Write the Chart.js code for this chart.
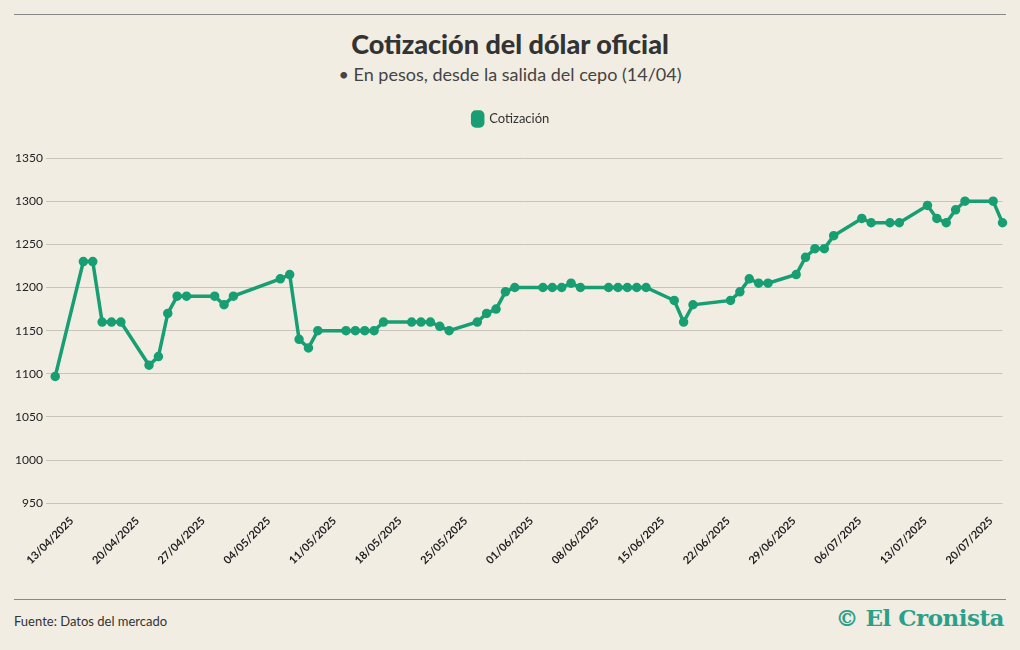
<!DOCTYPE html>
<html>
<head>
<meta charset="utf-8">
<script src="https://cdn.jsdelivr.net/npm/chart.js@4"></script>
<style>
body{margin:0;background:#f2ede3;font-family:Lato,"Open Sans",sans-serif;color:#333}
#wrap{position:relative;width:1020px;height:650px;overflow:hidden}
.rule{position:absolute;left:14px;right:14px;height:1px;background:#888}
#title{position:absolute;top:27px;width:100%;text-align:center;font-size:27px;font-weight:900;color:#333}
#sub{position:absolute;top:63px;width:100%;text-align:center;font-size:18px;color:#444}
#box{position:absolute;left:-6px;top:100px;width:1016px;height:470px}
#src{position:absolute;left:14px;top:613px;font-size:13px;color:#333}
#logo{position:absolute;right:16px;top:604px;font-family:"DejaVu Serif",serif;font-size:23px;font-weight:bold;color:#2aa08a;letter-spacing:-0.5px}
</style>
</head>
<body>
<div id="wrap">
<div class="rule" style="top:14px"></div>
<div id="title">Cotización del dólar oficial</div>
<div id="sub">• En pesos, desde la salida del cepo (14/04)</div>
<div id="box"><canvas id="c"></canvas></div>
<div class="rule" style="top:599px"></div>
<div id="src">Fuente: Datos del mercado</div>
<div id="logo">© El Cronista</div>
</div>
<script>
// days counted from 14/04/2025
var pointDays = [0,3,4,5,6,7,10,11,12,13,14,17,18,19,24,25,26,27,28,31,32,33,34,35,
	38,39,40,41,42,45,46,47,48,49,52,53,54,55,56,59,60,61,62,63,66,67,68,
	72,73,74,75,76,79,80,81,82,83,86,87,89,90,93,94,95,96,97,100,101];
var pointValues = [1097,1230,1230,1160,1160,1160,1110,1120,1170,1190,1190,1190,1180,1190,1210,1215,1140,1130,1150,1150,1150,1150,1150,1160,
	1160,1160,1160,1155,1150,1160,1170,1175,1195,1200,1200,1200,1200,1205,1200,1200,1200,1200,1200,1200,1185,1160,1180,
	1185,1195,1210,1205,1205,1215,1235,1245,1245,1260,1280,1275,1275,1275,1295,1280,1275,1290,1300,1300,1275];
var yTicks = [950,1000,1050,1100,1150,1200,1250,1300,1350];

var labels = [];
var values = [];
for(var i = 0; i < 103; i++){
	var d = new Date(2025, 3, 13 + i);
	var dd = String(d.getDate()).padStart(2,'0');
	var mm = String(d.getMonth()+1).padStart(2,'0');
	labels.push(dd + '/' + mm + '/' + d.getFullYear());
	values.push(null);
}
for(var i = 0; i < pointDays.length; i++){
	values[pointDays[i] + 1] = pointValues[i];
}

var green = '#179e72';
new Chart(document.getElementById('c'), {
	type: 'line',
	data: {
		labels: labels,
		datasets: [{
			label: 'Cotización',
			data: values,
			spanGaps: true,
			borderColor: green,
			backgroundColor: green,
			borderWidth: 3.5,
			pointRadius: 3,
			pointBackgroundColor: green,
			tension: 0
		}]
	},
	options: {
		responsive: true,
		maintainAspectRatio: false,
		animation: false,
		layout: {padding: {left: 18, right: 0}},
		plugins: {
			legend: {
				labels: {
					font: {family: 'Lato', size: 13},
					color: '#333',
					boxWidth: 10,
					boxHeight: 14,
					useBorderRadius: true,
					borderRadius: 3,
					padding: 12
				}
			},
			tooltip: {enabled: false}
		},
		scales: {
			x: {
				grid: {display: false},
				border: {display: false},
				ticks: {
					autoSkip: false,
					maxRotation: 45,
					minRotation: 45,
					labelOffset: 26,
					font: {family: 'Lato', size: 11, weight: 'bold'},
					color: '#222',
					callback: function(v, i){ return i % 7 == 0 ? labels[i] : null; }
				}
			},
			y: {
				min: 950,
				max: 1350,
				afterBuildTicks: function(ax){ ax.ticks = yTicks.map(function(v){ return {value: v}; }); },
				border: {display: false},
				grid: {color: '#c9c4bb', drawTicks: false},
				ticks: {font: {family: 'Lato', size: 12}, color: '#222', padding: 3,
					callback: function(v){ return String(v); }}
			}
		}
	},
	plugins: [{
		id: 'legendGap',
		beforeInit: function(chart){
			var fit = chart.legend.fit;
			chart.legend.fit = function(){ fit.bind(chart.legend)(); this.height += 22; };
		}
	}]
});
</script>
</body>
</html>
